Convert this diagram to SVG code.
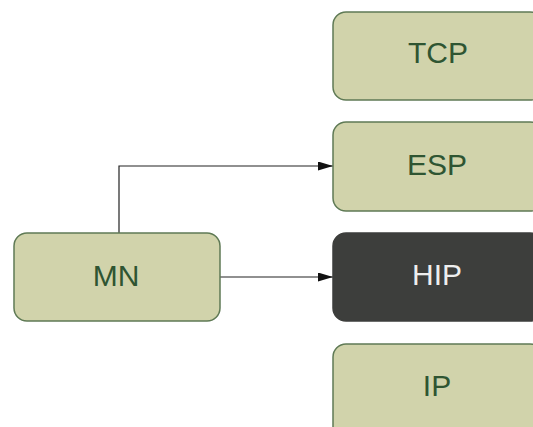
<svg xmlns="http://www.w3.org/2000/svg" width="533" height="427" viewBox="0 0 533 427">
<style>
.box{fill:#d1d3ab;stroke:#5f7a55;stroke-width:1.5}
.dark{fill:#3d3e3c;stroke:#3d3e3c;stroke-width:1.5}
.lbl{font-family:"Liberation Sans",Arial,sans-serif;font-size:30px;fill:#2f5532;text-anchor:middle}
.lbl.w{fill:#eeeeee}
.conn{fill:none;stroke:#222;stroke-width:1.2}
</style>
<defs>
<marker id="arr" viewBox="0 0 15 9" refX="15" refY="4.5" markerWidth="15" markerHeight="9" markerUnits="userSpaceOnUse" orient="auto">
<path d="M0,0 L15,4.5 L0,9 z" fill="#111"/>
</marker>
</defs>
<rect width="533" height="427" fill="#fff"/>
<g id="connectors">
<path class="conn" d="M119,233 V166 H333" marker-end="url(#arr)"/>
<path class="conn" d="M220,277 H333" marker-end="url(#arr)"/>
</g>
<g id="MN"><rect class="box" x="14" y="233" width="206" height="88" rx="13"/><text class="lbl" x="116" y="286">MN</text></g>
<g id="TCP"><rect class="box" x="333" y="12" width="210" height="88" rx="13"/><text class="lbl" x="438" y="63">TCP</text></g>
<g id="ESP"><rect class="box" x="333" y="122" width="210" height="89" rx="13"/><text class="lbl" x="437" y="175">ESP</text></g>
<g id="HIP"><rect class="dark" x="333" y="233" width="210" height="88" rx="13"/><text class="lbl w" x="437" y="285">HIP</text></g>
<g id="IP"><rect class="box" x="333" y="344" width="210" height="100" rx="13"/><text class="lbl" x="437" y="396">IP</text></g>
</svg>
